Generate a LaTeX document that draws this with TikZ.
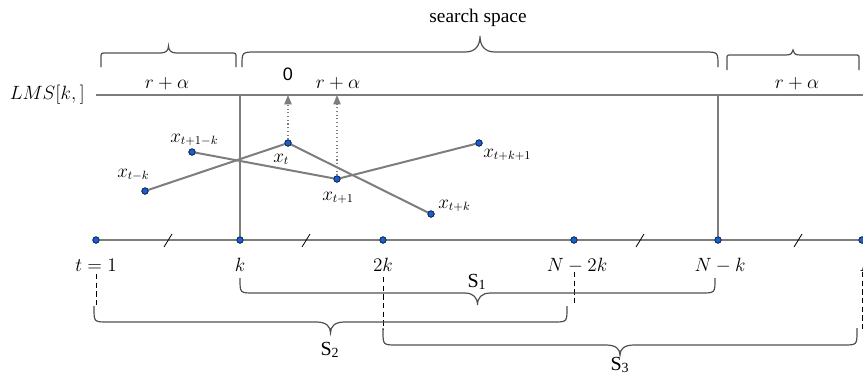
\documentclass[tikz,border=0pt]{standalone}
\usepackage{fontspec}
\newfontfamily\tms{Liberation Serif}
\newfontfamily\ars{Liberation Sans}
\usetikzlibrary{arrows.meta}
\definecolor{linegray}{RGB}{125,125,125}
\definecolor{bracegray}{RGB}{80,80,80}
\definecolor{dotblue}{RGB}{25,95,200}
\definecolor{dotedge}{RGB}{10,35,80}
\newcommand{\mybrace}[7]{% xL xR yline yend ytip r rt
  \pgfmathsetmacro\bxm{(#1+#2)/2}
  \pgfmathsetmacro\bsg{sign(#4-#3)}
  \pgfmathsetmacro\byc{#3+\bsg*#6}
  \pgfmathsetmacro\bytc{#3+0.4*(#5-#3)}
  \draw[bracestyle] (#1,#4) -- (#1,\byc) .. controls (#1,#3) .. (#1+#6,#3)
    -- (\bxm-#7,#3) .. controls (\bxm-0.3*#7,#3) and (\bxm,\bytc) .. (\bxm,#5)
    .. controls (\bxm,\bytc) and (\bxm+0.3*#7,#3) .. (\bxm+#7,#3)
    -- (#2-#6,#3) .. controls (#2,#3) .. (#2,\byc) -- (#2,#4);
}
\begin{document}
\begin{tikzpicture}[x=0.75pt,y=-0.75pt,
  mathlbl/.style={inner sep=0pt,font=\fontsize{13.5}{16}\selectfont},
  axisline/.style={draw=linegray,line width=1.5pt},
  dataline/.style={draw=linegray,line width=1.5pt},
  dot/.style={circle,fill=dotblue,draw=dotedge,line width=0.5pt,minimum size=4.8pt,inner sep=0pt},
  slash/.style={draw=black,line width=0.6pt},
  dotarrow/.style={draw=linegray,line width=0.8pt,dotted,-{Triangle[length=7pt,width=5.5pt,fill=linegray]}},
  dashline/.style={draw=black,line width=0.6pt,dash pattern=on 4pt off 2.5pt},
  bracestyle/.style={draw=bracegray,line width=0.9pt},
  slbl/.style={inner sep=0pt,font=\fontsize{15}{17}\tms}]
\useasboundingbox (0,0) rectangle (863,376);

% coordinates
\coordinate (lmsL) at (96,95);
\coordinate (lmsR) at (863,95);
\coordinate (lk) at (240,95);
\coordinate (lnk) at (718,95);
\coordinate (a0) at (288,95);
\coordinate (a1) at (337,95);

% axis points
\node[dot] (p1) at (96,240) {};
\node[dot] (pk) at (240,240) {};
\node[dot] (p2k) at (383,240) {};
\node[dot] (pn2k) at (574,240) {};
\node[dot] (pnk) at (718,240) {};
\node[dot] (pn) at (862,240) {};

% data points
\node[dot] (xtmk) at (145,191) {};
\node[dot] (xt1mk) at (192,152) {};
\node[dot] (xt) at (288,143) {};
\node[dot] (xt1) at (337,179) {};
\node[dot] (xtk) at (431,214) {};
\node[dot] (xtk1) at (479,143) {};

% lines (behind dots)
\begin{scope}[on background layer/.style={}]
\end{scope}
\draw[axisline] (lmsL) -- (lmsR);
\draw[axisline] (p1.center) -- (pn.center);
\draw[axisline] (pk.center) -- (lk);
\draw[axisline] (pnk.center) -- (lnk);
\draw[dataline] (xtmk.center) -- (xt.center) -- (xtk.center);
\draw[dataline] (xt1mk.center) -- (xt1.center) -- (xtk1.center);
\draw[dotarrow] (xt) -- (a0);
\draw[dotarrow] (xt1) -- (a1);

% redraw dots on top
\foreach \n/\x/\y in {p1/96/240,pk/240/240,p2k/383/240,pn2k/574/240,pnk/718/240,pn/862/240,
  xtmk/145/191,xt1mk/192/152,xt/288/143,xt1/337/179,xtk/431/214,xtk1/479/143}
  \node[dot] (d\n) at (\x,\y) {};

% slashes
\foreach \s in {168,306,640,798}
  \draw[slash] (\s-4,247) -- (\s+4,234);

% labels
\node[mathlbl,anchor=east] (lms) at (85,95) {$LMS[k,]$};
\node[mathlbl,anchor=base] (ra1) at (167,88) {$r+\alpha$};
\node[mathlbl,anchor=base] (ra2) at (338,88) {$r+\alpha$};
\node[mathlbl,anchor=base] (ra3) at (797,88) {$r+\alpha$};
\node[inner sep=0pt,anchor=base,font=\fontsize{13.5}{16}\ars] (zero) at (288,80) {0};
\node[inner sep=0pt,anchor=base,font=\fontsize{14.5}{17}\tms] (ss) at (478,22) {search space};

\node[mathlbl,anchor=base west] (lxtmk) at (117,177) {$x_{t-k}$};
\node[mathlbl,anchor=base west] (lxt1mk) at (170,142) {$x_{t+1-k}$};
\node[mathlbl,anchor=base west] (lxt) at (273,162) {$x_t$};
\node[mathlbl,anchor=base west] (lxt1) at (322,200) {$x_{t+1}$};
\node[mathlbl,anchor=base west] (lxtk1) at (483,157) {$x_{t+k+1}$};
\node[mathlbl,anchor=base west] (lxtk) at (438,208) {$x_{t+k}$};

\node[mathlbl,anchor=base] (l1) at (96,271) {$t=1$};
\node[mathlbl,anchor=base] (lk2) at (240,271) {$k$};
\node[mathlbl,anchor=base] (l2k) at (383,271) {$2k$};
\node[mathlbl,anchor=base] (ln2k) at (577,271) {$N-2k$};
\node[mathlbl,anchor=base] (lnk2) at (720,271) {$N-k$};
\node[mathlbl,anchor=base] (ln) at (868,271) {$N$};

% dashed guides
\coordinate (g1a) at (96,274);  \coordinate (g1b) at (96,306);
\coordinate (g2a) at (383,277); \coordinate (g2b) at (383,330);
\coordinate (g3a) at (574,272); \coordinate (g3b) at (574,305);
\coordinate (g4a) at (862,272); \coordinate (g4b) at (862,330);
\draw[dashline] (g1a) -- (g1b);
\draw[dashline] (g2a) -- (g2b);
\draw[dashline] (g3a) -- (g3b);
\draw[dashline] (g4a) -- (g4b);

% braces
\mybrace{101}{236}{53}{67}{46}{5}{8}
\mybrace{242}{718}{52}{67}{36}{14}{15}
\mybrace{727}{859}{55}{70}{50}{4}{7}
\mybrace{240}{715}{293}{278}{305}{14}{13}
\mybrace{94}{567}{322}{306}{333}{14}{14}
\mybrace{383}{857}{345}{328}{355}{14}{14}

\node[slbl,anchor=base] (s1) at (477,287) {S\textsubscript{1}};
\node[slbl,anchor=base] (s2) at (330,355) {S\textsubscript{2}};
\node[slbl,anchor=base] (s3) at (620,370) {S\textsubscript{3}};
\end{tikzpicture}
\end{document}
